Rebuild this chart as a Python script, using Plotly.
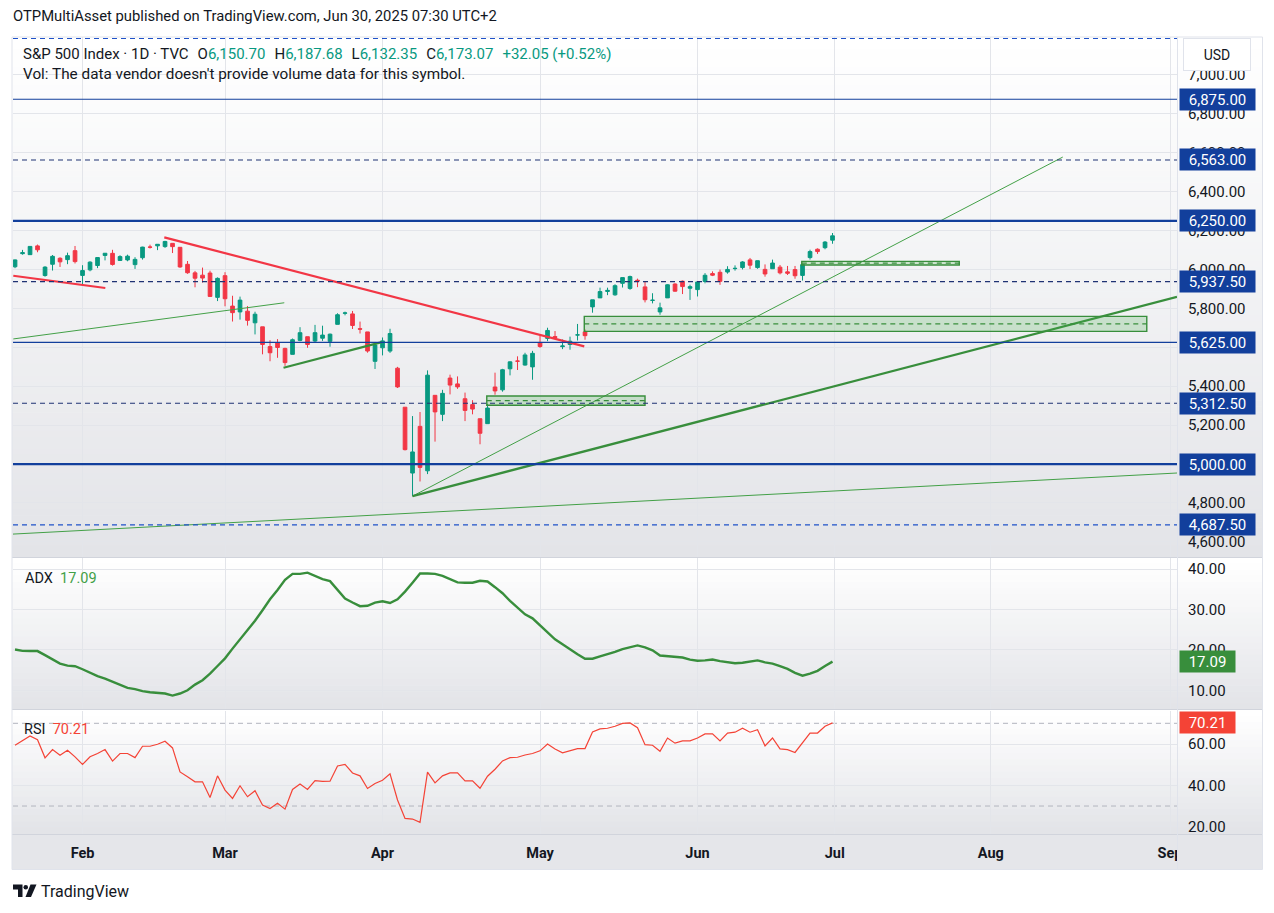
import plotly.graph_objects as go
from plotly.subplots import make_subplots

# ---------------- DATA ----------------
dates = [
"2025-01-21","2025-01-22","2025-01-23","2025-01-24","2025-01-27","2025-01-28","2025-01-29","2025-01-30","2025-01-31",
"2025-02-03","2025-02-04","2025-02-05","2025-02-06","2025-02-07","2025-02-10","2025-02-11","2025-02-12","2025-02-13","2025-02-14","2025-02-18","2025-02-19","2025-02-20","2025-02-21","2025-02-24","2025-02-25","2025-02-26","2025-02-27","2025-02-28",
"2025-03-03","2025-03-04","2025-03-05","2025-03-06","2025-03-07","2025-03-10","2025-03-11","2025-03-12","2025-03-13","2025-03-14","2025-03-17","2025-03-18","2025-03-19","2025-03-20","2025-03-21","2025-03-24","2025-03-25","2025-03-26","2025-03-27","2025-03-28","2025-03-31",
"2025-04-01","2025-04-02","2025-04-03","2025-04-04","2025-04-07","2025-04-08","2025-04-09","2025-04-10","2025-04-11","2025-04-14","2025-04-15","2025-04-16","2025-04-17","2025-04-21","2025-04-22","2025-04-23","2025-04-24","2025-04-25","2025-04-28","2025-04-29","2025-04-30",
"2025-05-01","2025-05-02","2025-05-05","2025-05-06","2025-05-07","2025-05-08","2025-05-09","2025-05-12","2025-05-13","2025-05-14","2025-05-15","2025-05-16","2025-05-19","2025-05-20","2025-05-21","2025-05-22","2025-05-23","2025-05-27","2025-05-28","2025-05-29","2025-05-30",
"2025-06-02","2025-06-03","2025-06-04","2025-06-05","2025-06-06","2025-06-09","2025-06-10","2025-06-11","2025-06-12","2025-06-13","2025-06-16","2025-06-17","2025-06-18","2025-06-20","2025-06-23","2025-06-24","2025-06-25","2025-06-26","2025-06-27"]

opens = [6014.12,6081.39,6076.32,6121.43,5969.04,6026.97,6057.70,6050.75,6096.79,
5969.65,5998.14,6020.45,6072.22,6083.13,6046.40,6049.32,6025.08,6060.59,6115.52,6121.60,6117.76,6134.50,6114.10,6026.69,5982.73,5970.87,5981.88,5856.74,
5968.33,5811.98,5781.95,5785.87,5726.01,5705.37,5603.65,5624.84,5594.45,5563.85,5635.60,5654.53,5632.37,5646.92,5630.73,5718.08,5775.14,5771.66,5695.64,5679.14,5527.91,
5597.53,5580.76,5492.74,5292.14,4953.79,5193.57,4965.28,5353.15,5255.56,5441.96,5411.99,5335.75,5305.45,5232.94,5207.67,5395.92,5381.38,5489.73,5529.22,5508.87,5499.44,
5625.14,5645.86,5655.32,5603.50,5614.43,5663.54,5679.32,5807.88,5854.05,5887.13,5869.81,5929.09,5902.88,5944.66,5910.63,5841.26,5781.89,5854.07,5925.35,5939.92,5903.67,
5896.68,5938.56,5978.94,5985.67,5987.06,6004.60,6009.91,6049.38,6009.90,6000.56,6004.00,6012.15,5987.93,5999.67,5969.67,6061.21,6104.20,6112.10,6150.70]

highs = [6051.51,6100.81,6118.73,6128.18,6017.17,6074.54,6062.83,6086.64,6120.91,
6022.13,6042.48,6062.86,6084.03,6101.28,6073.38,6076.28,6063.24,6116.91,6127.47,6129.63,6147.43,6134.50,6114.82,6043.65,5992.65,6009.82,5993.69,5959.40,
5986.09,5865.08,5860.59,5812.08,5783.01,5705.37,5636.30,5642.19,5597.78,5645.27,5703.52,5654.53,5715.33,5711.15,5670.84,5775.14,5783.38,5786.95,5732.28,5679.14,5627.56,
5650.57,5695.31,5499.53,5292.14,5246.57,5267.47,5481.34,5353.15,5381.46,5459.46,5450.41,5367.24,5328.31,5232.94,5309.61,5469.69,5489.40,5528.11,5553.66,5571.95,5581.84,
5658.91,5700.70,5683.55,5640.21,5654.84,5720.10,5691.68,5844.19,5906.63,5906.58,5924.21,5958.62,5968.61,5953.06,5938.37,5878.08,5829.51,5924.33,5929.00,5943.13,5922.14,
5937.40,5981.35,5990.48,5999.70,6016.87,6021.31,6043.01,6059.40,6045.43,6026.16,6050.83,6023.25,6018.25,6018.20,6028.81,6101.75,6108.51,6146.52,6187.68]

lows = [6006.88,6076.13,6074.67,6088.74,5962.92,5994.63,6012.96,6027.46,6030.93,
5923.93,5990.87,6007.06,6046.83,6019.96,6044.84,6042.34,6003.00,6050.95,6107.62,6099.51,6111.15,6084.59,6008.56,5977.83,5908.49,5932.69,5858.78,5837.66,
5810.91,5732.59,5742.35,5711.64,5666.29,5564.02,5528.41,5546.09,5504.65,5563.85,5631.12,5597.76,5622.20,5632.90,5603.10,5718.08,5764.38,5694.23,5670.94,5572.43,5488.73,
5558.52,5571.48,5390.83,5069.90,4835.04,4910.42,4948.43,5115.27,5220.77,5358.02,5386.44,5220.79,5255.58,5101.63,5207.67,5356.41,5371.96,5455.86,5483.37,5505.70,5433.24,
5597.35,5631.98,5643.93,5590.70,5587.61,5635.06,5639.06,5777.94,5853.61,5868.18,5865.21,5907.36,5895.69,5909.26,5830.91,5825.82,5767.41,5854.07,5886.12,5873.80,5843.66,
5861.43,5929.00,5966.11,5921.20,5978.63,5994.18,6000.26,6002.32,6003.88,5963.21,6004.00,5974.80,5971.89,5952.56,5943.23,6051.03,6080.10,6103.94,6132.35]

closes = [6049.24,6086.37,6118.71,6101.24,6012.28,6067.70,6039.31,6071.17,6040.53,
5994.57,6037.88,6061.48,6083.57,6025.99,6066.44,6068.50,6051.97,6115.07,6114.63,6129.58,6144.15,6117.52,6013.13,5983.25,5955.25,5956.06,5861.57,5954.50,
5849.72,5778.15,5842.63,5738.52,5770.20,5614.56,5572.07,5599.30,5521.52,5638.94,5675.12,5614.66,5675.29,5662.89,5667.56,5767.57,5776.65,5712.20,5693.31,5580.94,5611.85,
5633.07,5670.97,5396.52,5074.08,5062.25,4982.77,5456.90,5268.05,5363.36,5405.97,5396.63,5275.70,5282.70,5158.20,5287.76,5375.86,5484.77,5525.21,5528.75,5560.83,5569.06,
5604.14,5686.67,5650.38,5606.91,5631.28,5663.94,5659.91,5844.19,5886.55,5892.58,5916.93,5958.38,5963.60,5940.46,5844.61,5842.01,5802.82,5921.54,5888.55,5912.17,5911.69,
5935.94,5970.37,5970.81,5939.30,6000.36,6005.88,6038.81,6022.24,6045.26,5976.97,6033.11,5982.72,5980.87,5967.84,6025.17,6092.18,6092.16,6141.02,6173.07]

adx = [20.1,19.75,19.7,19.7,18.7,17.6,16.6,16.1,15.95,15.2,
14.3,13.5,12.9,12.1,11.2,10.6,10.3,9.8,9.5,9.3,
9.2,8.7,9.2,10.0,11.4,12.5,14.1,16.0,17.9,20.3,
22.6,24.9,27.2,29.8,32.5,34.8,37.3,38.8,38.8,39.1,
38.3,37.5,37.0,34.8,32.7,31.7,30.8,30.9,31.7,32.0,
31.6,32.5,34.4,36.6,38.9,38.9,38.8,38.3,37.4,36.7,
36.6,36.6,37.1,36.9,35.5,34.0,32.1,30.4,28.8,27.8,
26.1,24.2,22.6,21.4,20.1,18.9,17.8,17.8,18.4,18.9,
19.5,20.2,20.7,21.1,20.6,19.9,18.6,18.4,18.3,18.1,
17.6,17.3,17.4,17.6,17.2,16.9,16.7,16.8,17.1,17.4,
16.9,16.6,16.0,15.3,14.3,13.6,14.1,14.8,16.0,17.09]

rsi = [59.4,61.8,63.9,62.1,53.3,57.3,54.6,57.0,53.8,50.1,
53.8,55.4,57.3,51.7,55.4,55.4,53.4,58.9,58.9,59.9,
61.3,58.1,46.5,44.1,41.7,41.7,34.1,44.6,37.7,33.7,
39.8,34.5,37.4,30.5,28.8,31.3,28.5,38.0,40.6,38.0,
42.3,41.9,42.0,49.4,50.1,46.0,44.6,38.5,40.9,42.5,
45.6,32.9,24.0,23.7,22.1,46.4,41.2,44.6,46.0,46.0,
42.2,42.2,38.6,44.4,47.8,51.8,53.4,53.6,54.7,55.4,
56.7,60.0,57.6,55.7,56.7,57.8,57.8,65.8,67.3,67.6,
68.6,70.0,70.2,67.9,59.7,59.4,56.5,62.9,60.4,61.5,
61.5,62.9,64.9,64.9,61.5,65.3,65.7,67.6,65.7,66.9,
59.1,62.9,57.6,57.3,55.9,60.7,65.3,65.3,68.6,70.21]

bar_index = list(range(len(dates)))

month_ticks = [9, 28, 49, 70, 91, 109.3, 130.1, 154.0]
month_labels = ["Feb", "Mar", "Apr", "May", "Jun", "Jul", "Aug", "Sep"]

price_ticks = [4600, 4800, 5000, 5200, 5400, 5600, 5800, 6000, 6200, 6400, 6600, 6800, 7000]
price_hidden = [5000, 5600]          # fully covered by level labels in the original
adx_ticks = [10, 20, 30, 40]
rsi_ticks = [20, 40, 60]
rsi_bands = [70, 30]

levels_solid = [5000, 6250]
levels_solid_thin = [5625, 6875]
levels_dashed_outer = [4687.5, 7187.5]
levels_dashed_inner = [5312.5, 5937.5, 6563]
level_labels = [4687.5, 5000, 5312.5, 5625, 5937.5, 6250, 6563, 6875]

red_trend_x = [[-0.23, 12.04], [19.9, 75.9]]
red_trend_y = [[5968, 5905], [6165, 5605]]
green_thin_x = [[-0.23, 35.9], [53, 139.7], [-0.27, 154.93]]
green_thin_y = [[5643, 5829], [4835, 6578], [4640, 4954]]
green_thick_x = [[35.8, 48.9], [53, 154.93]]
green_thick_y = [[5495, 5627], [4835, 5859]]

zone_x0 = [62.9, 75.9, 104.9]
zone_x1 = [84, 150.9, 125.9]
zone_lo = [5302, 5682, 6023]
zone_hi = [5350, 5759, 6042]

last_o, last_h, last_l, last_c = 6150.70, 6187.68, 6132.35, 6173.07
chg, chg_pct = 32.05, 0.52

# ---------------- STYLE / LAYOUT ----------------
W, H = 1274, 913
PL, PR, PT, PB = 13, 1177, 37, 834
PW, PH = PR - PL, PB - PT
FONT = "Roboto"
TXT = "#131722"
UP, DN = "#089981", "#F23645"
NAVY = "#123f9c"
NAVY_D = "#1f3273"
BLUE = "#1f52c9"
GRID = "#e3e5ea"


def fx(xp):
    return (xp - PL) / PW


def fy(yp):
    return (PB - yp) / PH


main_dom = [fy(557), 1.0]
adx_dom = [fy(709), fy(558)]
rsi_dom = [0.0, fy(711)]

fig = make_subplots(rows=3, cols=1, shared_xaxes=True, vertical_spacing=0.0)

fig.add_trace(go.Candlestick(
    x=bar_index, open=opens, high=highs, low=lows, close=closes,
    increasing=dict(line=dict(color=UP, width=1), fillcolor=UP),
    decreasing=dict(line=dict(color=DN, width=1), fillcolor=DN),
    whiskerwidth=0, hoverinfo="skip", showlegend=False), row=1, col=1)

for xs, ys in zip(red_trend_x, red_trend_y):
    fig.add_trace(go.Scatter(x=xs, y=ys, mode="lines", line=dict(color="#F23645", width=2.2),
                             hoverinfo="skip", showlegend=False), row=1, col=1)
for xs, ys in zip(green_thin_x, green_thin_y):
    fig.add_trace(go.Scatter(x=xs, y=ys, mode="lines", line=dict(color="#43a047", width=1),
                             hoverinfo="skip", showlegend=False), row=1, col=1)
for xs, ys in zip(green_thick_x, green_thick_y):
    fig.add_trace(go.Scatter(x=xs, y=ys, mode="lines", line=dict(color="#388e3c", width=2.3),
                             hoverinfo="skip", showlegend=False), row=1, col=1)

fig.add_trace(go.Scatter(x=bar_index, y=adx, mode="lines", line=dict(color="#388e3c", width=2.4),
                         hoverinfo="skip", showlegend=False), row=2, col=1)
fig.add_trace(go.Scatter(x=bar_index, y=rsi, mode="lines", line=dict(color="#f44336", width=1.2),
                         hoverinfo="skip", showlegend=False), row=3, col=1)

xr = [-0.27, 154.93]
for ax in ["xaxis", "xaxis2", "xaxis3"]:
    fig.layout[ax].update(
        range=xr, showgrid=True, gridcolor=GRID, gridwidth=1, zeroline=False, showline=False,
        tickmode="array", tickvals=month_ticks, ticktext=month_labels, ticks="",
        showticklabels=(ax == "xaxis3"), rangeslider=dict(visible=False), fixedrange=True,
        tickfont=dict(family=FONT, size=14.5, color=TXT, weight="bold"), ticklabelstandoff=8)

common_y = dict(side="right", showgrid=True, gridcolor=GRID, gridwidth=1, zeroline=False,
                showline=False, ticks="", fixedrange=True, ticklabelstandoff=10,
                tickfont=dict(family=FONT, size=15, color=TXT))
price_text = ["" if t in price_hidden else f"{t:,.2f}" for t in price_ticks]
fig.layout.yaxis.update(domain=main_dom, range=[4522.2, 7195.1], tickmode="array",
                        tickvals=price_ticks, ticktext=price_text, **common_y)
fig.layout.yaxis2.update(domain=adx_dom, range=[5.37, 42.72], tickmode="array", tickvals=adx_ticks,
                         ticktext=[f"{t:.2f}" for t in adx_ticks], **common_y)
fig.layout.yaxis3.update(domain=rsi_dom, range=[16.47, 75.96], tickmode="array", tickvals=rsi_ticks,
                         ticktext=[f"{t:.2f}" for t in rsi_ticks], **common_y)

shapes = []


def lerp(c0, c1, t):
    return "rgb(%d,%d,%d)" % tuple(round(a + (b - a) * t) for a, b in zip(c0, c1))


def gradient(y_top, y_bot, c0=(255, 255, 255), c1=(227, 228, 232), step=6):
    n = max(2, int((y_bot - y_top) / step))
    h = (y_bot - y_top) / n
    for k in range(n):
        y0 = y_top + k * h
        shapes.append(dict(type="rect", xref="paper", yref="paper", x0=fx(12), x1=fx(1262),
                           y0=fy(y0 + h + 0.6), y1=fy(y0), line=dict(width=0),
                           fillcolor=lerp(c0, c1, k / (n - 1)), layer="below"))


gradient(37, 557.5)
gradient(557.5, 709.5)
gradient(709.5, 834)
shapes.append(dict(type="rect", xref="paper", yref="paper", x0=fx(12), x1=fx(1262),
                   y0=fy(869), y1=fy(834), line=dict(width=0), fillcolor="#e5e6ea", layer="below"))

# zones
for x0, x1, lo, hi in zip(zone_x0, zone_x1, zone_lo, zone_hi):
    shapes.append(dict(type="rect", xref="x", yref="y", x0=x0, x1=x1, y0=lo, y1=hi,
                       fillcolor="rgba(76,175,80,0.24)", line=dict(color="#388e3c", width=1.4),
                       layer="above"))
    shapes.append(dict(type="line", xref="x", yref="y", x0=x0, x1=x1, y0=(lo + hi) / 2,
                       y1=(lo + hi) / 2, line=dict(color="#388e3c", width=1.2, dash="5px,4px"),
                       layer="above"))

# horizontal levels
for lv in levels_solid:
    shapes.append(dict(type="line", xref="x domain", yref="y", x0=0, x1=1, y0=lv, y1=lv,
                       line=dict(color=NAVY, width=2.2), layer="above"))
for lv in levels_solid_thin:
    shapes.append(dict(type="line", xref="x domain", yref="y", x0=0, x1=1, y0=lv, y1=lv,
                       line=dict(color=NAVY, width=1.2), layer="above"))
for lv in levels_dashed_outer:
    shapes.append(dict(type="line", xref="x domain", yref="y", x0=0, x1=1, y0=lv, y1=lv,
                       line=dict(color=BLUE, width=1.1, dash="5px,4px"), layer="above"))
for lv in levels_dashed_inner:
    shapes.append(dict(type="line", xref="x domain", yref="y", x0=0, x1=1, y0=lv, y1=lv,
                       line=dict(color=NAVY_D, width=1.1, dash="5px,4px"), layer="above"))

# RSI bands
for b in rsi_bands:
    shapes.append(dict(type="line", xref="x3 domain", yref="y3", x0=0, x1=1, y0=b, y1=b,
                       line=dict(color="#b2b5be", width=1, dash="5px,4px"), layer="below"))

# separators and frame
for yp in [557.5, 709.5, 834.5]:
    shapes.append(dict(type="line", xref="paper", yref="paper", x0=fx(12), x1=fx(1262),
                       y0=fy(yp), y1=fy(yp), line=dict(color="#d1d4dc", width=1), layer="above"))
shapes.append(dict(type="line", xref="paper", yref="paper", x0=fx(1177.5), x1=fx(1177.5),
                   y0=fy(869), y1=fy(37), line=dict(color="#e0e3eb", width=1), layer="above"))
shapes.append(dict(type="rect", xref="paper", yref="paper", x0=fx(12), x1=fx(1262.5),
                   y0=fy(869.5), y1=fy(37), line=dict(color="#e0e3eb", width=1), layer="above"))
# time axis strip under the price-scale column (clips "Sep")
shapes.append(dict(type="rect", xref="paper", yref="paper", x0=fx(1178), x1=fx(1262),
                   y0=fy(869), y1=fy(835), line=dict(width=0), fillcolor="#e5e6ea", layer="above"))

# TradingView logo glyph
shapes.append(dict(type="path", xref="paper", yref="paper",
                   path="M %f %f L %f %f L %f %f L %f %f L %f %f L %f %f Z" % (
                       fx(13), fy(884.5), fx(22.5), fy(884.5), fx(22.5), fy(897), fx(18), fy(897),
                       fx(18), fy(889.5), fx(13), fy(889.5)),
                   fillcolor="#131722", line=dict(width=0), layer="above"))
shapes.append(dict(type="circle", xref="paper", yref="paper", x0=fx(23.5), x1=fx(28),
                   y0=fy(889.5), y1=fy(885), fillcolor="#131722", line=dict(width=0), layer="above"))
shapes.append(dict(type="path", xref="paper", yref="paper",
                   path="M %f %f L %f %f L %f %f L %f %f Z" % (
                       fx(30.5), fy(884.5), fx(36.5), fy(884.5), fx(31), fy(897), fx(25.5), fy(897)),
                   fillcolor="#131722", line=dict(width=0), layer="above"))

fig.update_layout(shapes=shapes)

ann = []
ann.append(dict(xref="paper", yref="paper", x=fx(11), y=fy(16), xanchor="left", yanchor="middle",
                text="OTPMultiAsset published on TradingView.com, Jun 30, 2025 07:30 UTC+2",
                showarrow=False, font=dict(family=FONT, size=14.8, color=TXT)))
g = "<span style='color:%s'>%s</span>"
sp = "\u00a0\u00a0\u200a"
hdr = ("S&P 500 Index · 1D · TVC" + sp + "O" + g % (UP, f"{last_o:,.2f}") +
       sp + "H" + g % (UP, f"{last_h:,.2f}") +
       sp + "L" + g % (UP, f"{last_l:,.2f}") +
       sp + "C" + g % (UP, f"{last_c:,.2f}") +
       sp + g % (UP, f"+{chg:.2f} (+{chg_pct:.2f}%)"))
ann.append(dict(xref="paper", yref="paper", x=fx(21), y=fy(54), xanchor="left", yanchor="middle",
                text=hdr, showarrow=False, font=dict(family=FONT, size=15, color=TXT)))
ann.append(dict(xref="paper", yref="paper", x=fx(21), y=fy(74), xanchor="left", yanchor="middle",
                text="Vol: The data vendor doesn't provide volume data for this symbol.",
                showarrow=False, font=dict(family=FONT, size=15.3, color=TXT)))
ann.append(dict(xref="paper", yref="paper", x=fx(23), y=fy(578), xanchor="left", yanchor="middle",
                text="ADX" + "\u00a0\u00a0" + g % ("#43a047", f"{adx[-1]:.2f}"),
                showarrow=False, font=dict(family=FONT, size=14.5, color=TXT)))
ann.append(dict(xref="paper", yref="paper", x=fx(22), y=fy(729), xanchor="left", yanchor="middle",
                text="RSI" + "\u00a0\u00a0" + g % ("#f44336", f"{rsi[-1]:.2f}"),
                showarrow=False, font=dict(family=FONT, size=14.5, color=TXT)))
ann.append(dict(xref="paper", yref="paper", x=fx(39), y=fy(891), xanchor="left", yanchor="middle",
                text="TradingView", showarrow=False, font=dict(family=FONT, size=16, color=TXT)))
# USD box
ann.append(dict(xref="paper", yref="paper", x=fx(1216.5), y=fy(55), xanchor="center", yanchor="middle",
                text="USD", showarrow=False, width=62, height=27, bgcolor="#ffffff",
                bordercolor="#e0e3eb", borderwidth=1, borderpad=2,
                font=dict(family=FONT, size=14, color=TXT)))
# level labels
for lv in level_labels:
    ann.append(dict(xref="paper", yref="y", x=fx(1179), y=lv, xanchor="left", yanchor="middle",
                    text=f"{lv:,.2f}", showarrow=False, width=71, height=17, bgcolor=NAVY,
                    borderpad=2, font=dict(family=FONT, size=15, color="#ffffff")))
ann.append(dict(xref="paper", yref="y2", x=fx(1179), y=adx[-1], xanchor="left", yanchor="middle",
                text=f"{adx[-1]:.2f}", showarrow=False, width=51, height=17, bgcolor="#388e3c",
                borderpad=2, font=dict(family=FONT, size=15, color="#ffffff")))
ann.append(dict(xref="paper", yref="y3", x=fx(1179), y=rsi[-1], xanchor="left", yanchor="middle",
                text=f"{rsi[-1]:.2f}", showarrow=False, width=51, height=17, bgcolor="#f44336",
                borderpad=2, font=dict(family=FONT, size=15, color="#ffffff")))

fig.update_layout(
    annotations=ann, width=W, height=H,
    margin=dict(l=PL, r=W - PR, t=PT, b=H - PB),
    paper_bgcolor="#ffffff", plot_bgcolor="rgba(0,0,0,0)",
    showlegend=False, hovermode=False, dragmode=False,
    font=dict(family=FONT, color=TXT))

fig.write_html("out.html", include_plotlyjs=True, config={"displayModeBar": False})
